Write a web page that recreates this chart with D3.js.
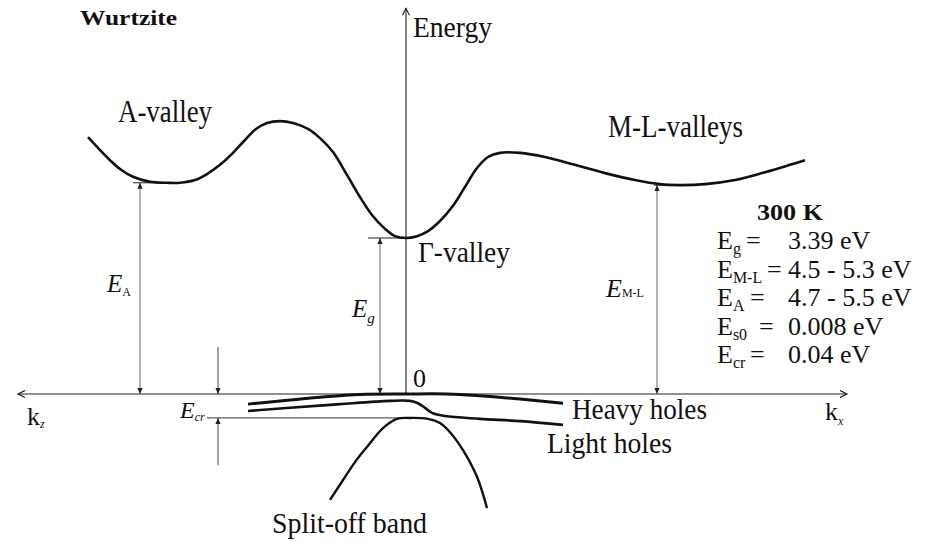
<!DOCTYPE html>
<html>
<head>
<meta charset="utf-8">
<script src="https://cdn.jsdelivr.net/npm/d3@7"></script>
<style>
  body { margin: 0; background: #fff; }
  svg text { font-family: "Liberation Serif", "Times New Roman", Times, "DejaVu Serif", serif; fill: #111; }
</style>
</head>
<body>
<svg id="chart" width="939" height="542"></svg>
<script>
// schematic band structure, energy in eV vs wave vector (k_z to the left, k_x to the right)
var condK = [-3.18, -3.06, -2.96, -2.86, -2.73, -2.56, -2.39, -2.26, -2.11, -1.99, -1.86, -1.73, -1.61, -1.50, -1.39, -1.26,
             -1.13, -0.98, -0.86, -0.73, -0.59, -0.46, -0.34, -0.22, -0.11, 0, 0.11, 0.22, 0.34, 0.47, 0.59, 0.71,
             0.82, 0.94, 1.14, 1.39, 1.69, 1.99, 2.29, 2.54, 2.74, 2.99, 3.29, 3.59, 3.84, 3.99];
var condE = [5.58, 5.30, 5.08, 4.89, 4.72, 4.61, 4.59, 4.59, 4.65, 4.78, 4.98, 5.24, 5.52, 5.76, 5.89, 5.93,
             5.89, 5.76, 5.56, 5.26, 4.76, 4.28, 3.89, 3.61, 3.43, 3.39, 3.43, 3.54, 3.76, 4.09, 4.50, 4.91,
             5.15, 5.24, 5.24, 5.15, 4.98, 4.80, 4.65, 4.56, 4.54, 4.56, 4.65, 4.82, 4.98, 5.08];

var heavyK = [-1.58, -1.26, -0.86, -0.46, 0, 0.41, 0.74, 1.14, 1.57];
var heavyE = [-0.22, -0.15, -0.07, -0.01, 0, 0, -0.04, -0.11, -0.20];

var lightK = [-1.58, -1.16, -0.66, -0.16, 0.04, 0.12, 0.19, 0.26, 0.39, 0.74, 1.14, 1.57];
var lightE = [-0.37, -0.30, -0.22, -0.15, -0.15, -0.20, -0.30, -0.41, -0.48, -0.54, -0.59, -0.67];

var splitK = [-0.76, -0.63, -0.51, -0.39, -0.23, -0.09, 0.04, 0.22, 0.34, 0.44, 0.57, 0.71, 0.81];
var splitE = [-2.30, -1.87, -1.48, -1.15, -0.74, -0.54, -0.52, -0.54, -0.63, -0.83, -1.22, -1.80, -2.48];

// energy gaps marked by arrows: A valley, Gamma, M-L
var gapNames = ["A", "g", "M-L"];
var gapK = [-2.66, -0.26, 2.51];
var gapE = [4.59, 3.39, 4.54];
var crystalField = -0.52;   // top of split-off band in the drawing

var legendNames = ["g", "M-L", "A", "s0", "cr"];
var legendValues = ["3.39 eV", "4.5 - 5.3 eV", "4.7 - 5.5 eV", "0.008 eV", "0.04 eV"];

var FONT = "'Liberation Serif', 'Times New Roman', Times, serif";

var svg = d3.select("#chart").attr("font-family", FONT);

var x = d3.scaleLinear().domain([-3.88, 4.41]).range([18, 847]);
var y = d3.scaleLinear().domain([0, 3.39]).range([394, 238]);

// arrow heads
var defs = svg.append("defs");
defs.append("marker")
    .attr("id", "open")
    .attr("markerUnits", "userSpaceOnUse")
    .attr("markerWidth", 10).attr("markerHeight", 10)
    .attr("viewBox", "-1 -5 10 10")
    .attr("refX", 7).attr("refY", 0)
    .attr("orient", "auto-start-reverse")
    .append("path")
    .attr("d", "M0,-3.5 L7,0 L0,3.5")
    .attr("fill", "none").attr("stroke", "#111").attr("stroke-width", 1.1);
defs.append("marker")
    .attr("id", "tri")
    .attr("markerUnits", "userSpaceOnUse")
    .attr("markerWidth", 8).attr("markerHeight", 8)
    .attr("viewBox", "0 -4 8 8")
    .attr("refX", 6).attr("refY", 0)
    .attr("orient", "auto-start-reverse")
    .append("path")
    .attr("d", "M0,-2.6 L6,0 L0,2.6 Z")
    .attr("fill", "#222");

// axes
svg.append("line")
    .attr("x1", x.range()[0]).attr("x2", x.range()[1])
    .attr("y1", y(0)).attr("y2", y(0))
    .attr("stroke", "#222").attr("stroke-width", 1.1)
    .attr("marker-start", "url(#open)").attr("marker-end", "url(#open)");
svg.append("line")
    .attr("x1", x(0)).attr("x2", x(0))
    .attr("y1", y(0)).attr("y2", y(8.38))
    .attr("stroke", "#222").attr("stroke-width", 1.1)
    .attr("marker-end", "url(#open)");

// gap arrows and their small level ticks
gapK.forEach(function(k, i) {
  svg.append("line")
      .attr("x1", x(k)).attr("x2", x(k))
      .attr("y1", y(0)).attr("y2", y(gapE[i]))
      .attr("stroke", "#666").attr("stroke-width", 1)
      .attr("marker-start", "url(#tri)").attr("marker-end", "url(#tri)");
});
var tickFrom = [-2.73, -0.38, 2.48];
var tickTo = [-2.56, 0, 2.62];
tickFrom.forEach(function(k, i) {
  svg.append("line")
      .attr("x1", x(k)).attr("x2", x(tickTo[i]))
      .attr("y1", y(gapE[i])).attr("y2", y(gapE[i]))
      .attr("stroke", "#222").attr("stroke-width", 1);
});

// crystal field splitting marker
var crK = -1.88;
svg.append("line")
    .attr("x1", x(-1.99)).attr("x2", x(-0.02))
    .attr("y1", y(crystalField)).attr("y2", y(crystalField))
    .attr("stroke", "#333").attr("stroke-width", 1);
svg.append("line")
    .attr("x1", x(crK)).attr("x2", x(crK))
    .attr("y1", y(1.02)).attr("y2", y(0))
    .attr("stroke", "#444").attr("stroke-width", 1)
    .attr("marker-end", "url(#tri)");
svg.append("line")
    .attr("x1", x(crK)).attr("x2", x(crK))
    .attr("y1", y(-1.55)).attr("y2", y(crystalField))
    .attr("stroke", "#444").attr("stroke-width", 1)
    .attr("marker-end", "url(#tri)");

// bands
var line = d3.line()
    .x(function(d) { return x(d[0]); })
    .y(function(d) { return y(d[1]); })
    .curve(d3.curveCatmullRom.alpha(0.5));

function band(ks, es, w) {
  svg.append("path")
      .datum(d3.zip(ks, es))
      .attr("d", line)
      .attr("fill", "none")
      .attr("stroke", "#111")
      .attr("stroke-width", w)
      .attr("stroke-linejoin", "round");
}
band(condK, condE, 2.6);
band(heavyK, heavyE, 3);
band(lightK, lightE, 2.6);
band(splitK, splitE, 2.4);

// text helpers
function label(s, px, py, size, opts) {
  opts = opts || {};
  var t = svg.append("text")
      .attr("x", px).attr("y", py)
      .attr("font-family", FONT)
      .style("font-size", size + "px")
      .text(s);
  if (opts.len) t.attr("textLength", opts.len).attr("lengthAdjust", "spacingAndGlyphs");
  if (opts.bold) t.style("font-weight", "bold");
  if (opts.italic) t.style("font-style", "italic");
  return t;
}
function symbol(base, sub, px, py, size, subSize, subDy, italic, subItalic) {
  var t = svg.append("text").attr("x", px).attr("y", py)
      .attr("font-family", FONT)
      .style("font-size", size + "px");
  t.append("tspan").text(base).style("font-style", italic ? "italic" : "normal");
  t.append("tspan").text(sub).attr("dy", subDy)
      .style("font-size", subSize + "px")
      .style("font-style", subItalic ? "italic" : "normal");
  return t;
}

label("Wurtzite", 80, 25, 22, {bold: true, len: 97});
label("Energy", 413, 37, 29, {len: 79});
label("A-valley", 118, 122, 31, {len: 94});
label("M-L-valleys", 608, 137, 31, {len: 135});
label("\u0393-valley", 418, 262, 29, {len: 92});
label("0", 413, 387, 26);
label("Heavy holes", 572, 419, 29, {len: 135});
label("Light holes", 547, 453, 29, {len: 125});
label("Split-off band", 272, 533, 29, {len: 155});

symbol("E", "A", 107, 292, 25, 12, 4, true, false);
symbol("E", "g", 352, 317, 25, 15, 6, true, true);
symbol("E", "M-L", 606, 297, 26, 12, 0, true, false);
symbol("E", "cr", 180, 418, 24, 12, 3, true, true);
symbol("k", "z", 27, 425, 26, 12, 3, false, true);
symbol("k", "x", 825, 420, 26, 12, 5, false, true);

// legend
label("300 K", 757, 220, 24, {bold: true, len: 66});
var eqX = [746, 767, 750, 759, 750];
legendNames.forEach(function(n, i) {
  var by = 249 + i * 28.5;
  symbol("E", n, 717, by, 26, 16, 5, false, false);
  label("=", eqX[i], by, 26);
  label(legendValues[i], 788, by, 26);
});
</script>
</body>
</html>
